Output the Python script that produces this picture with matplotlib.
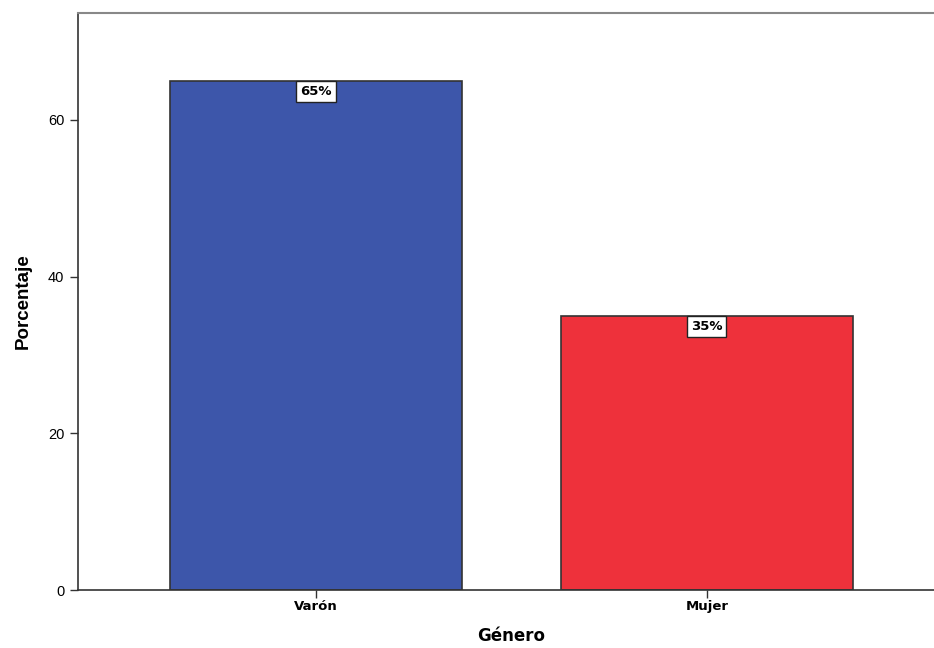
import matplotlib
matplotlib.use("Agg")
import matplotlib.pyplot as plt

plt.rcParams['font.family'] = ['Liberation Sans', 'DejaVu Sans']

categories = ["Varón", "Mujer"]
percentages = [65, 35]
labels = ["65%", "35%"]
colors = ["#3d56aa", "#ee313b"]

fig = plt.figure(figsize=(9.34, 6.48), dpi=100)
ax = fig.add_axes([0.083, 0.0895, 0.929, 0.891])

x = range(len(categories))
ax.bar(x, percentages, width=0.747, color=colors, edgecolor="#333333", linewidth=1.2)

for xi, v, lab in zip(x, percentages, labels):
    ax.text(xi, v - 0.55, lab, ha="center", va="top", fontsize=9.5, fontweight="bold",
            family="DejaVu Sans",
            bbox=dict(boxstyle="square,pad=0.3", facecolor="white", edgecolor="#222222", linewidth=1))

ax.set_xlim(-0.61, 1.61)
ax.set_ylim(0, 73.7)
ax.set_yticks([0, 20, 40, 60])
ax.set_xticks(list(x))
ax.set_xticklabels(categories, fontsize=9.5, fontweight="bold", family="DejaVu Sans")
ax.tick_params(axis="y", labelsize=10.5, length=6, width=1, color="#333333")
ax.tick_params(axis="x", length=6, width=1, color="#333333", pad=1)

ax.spines["top"].set_color("#888888")
ax.spines["top"].set_linewidth(1.5)
ax.spines["right"].set_visible(False)
ax.spines["left"].set_color("#333333")
ax.spines["bottom"].set_color("#333333")
ax.spines["left"].set_linewidth(1.2)
ax.spines["bottom"].set_linewidth(1.2)

ax.set_ylabel("Porcentaje", fontsize=13.5, fontweight="bold", labelpad=12)
ax.set_xlabel("Género", fontsize=12, fontweight="bold", family="DejaVu Sans", labelpad=10)

fig.savefig("out.png", dpi=100)
